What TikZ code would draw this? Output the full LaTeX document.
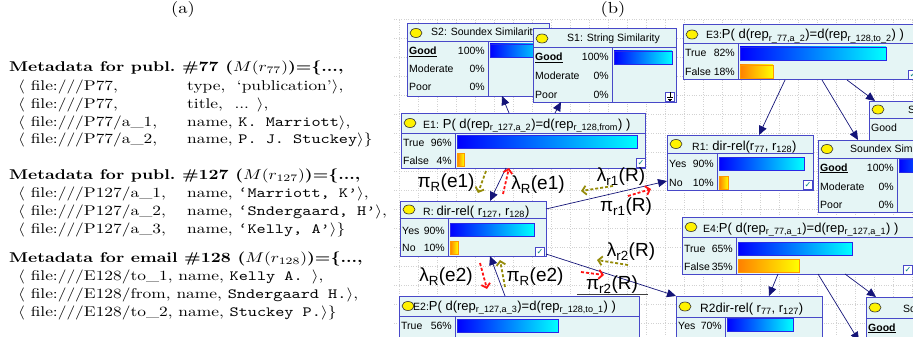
\documentclass[tikz,border=0pt]{standalone}
\usepackage{fontspec}
\usepackage{graphicx}
\usetikzlibrary{calc,arrows.meta,shapes.geometric}

\newfontfamily\netfont{Liberation Sans}
\newfontfamily\tickfont{DejaVu Sans}

\definecolor{netblue}{RGB}{72,72,200}
\definecolor{netfill}{RGB}{229,245,245}
\definecolor{barblue}{RGB}{40,40,230}
\definecolor{netorange}{RGB}{255,128,0}
\definecolor{navy}{RGB}{20,20,120}
\definecolor{msgolive}{RGB}{150,140,10}
\definecolor{msgred}{RGB}{255,20,20}
\definecolor{tickteal}{RGB}{0,128,128}

\newcommand{\widetext}[1]{\scalebox{1.74}[1.41]{#1}}
\newcommand{\bigtitle}[1]{{\fontsize{13}{15}\selectfont #1}}

% belief box: name, x, y, width, height, title bar, label column
\newcommand{\netbox}[7]{%
  \node[netframe, minimum width=#4pt, minimum height=#5pt] (#1) at (#2,#3) {};
  \coordinate (#1-col) at ($(#1.north west)+(#7,0)$);
  \draw[netline] ($(#1.north west)+(0,#6)$) -- ($(#1.north east)+(0,#6)$);
  \draw[netline] ($(#1-col)+(0,#6)$) -- (#1-col |- #1.south);
  \node[bulb] (#1-bulb) at ($(#1.north west)+(9,#6/2)$) {};
}
% state row: box, id, baseline, label, percent
\newcommand{\netrow}[5]{%
  \node[netlabel, anchor=base west] (#1-#2) at ($(#1.north west)+(2,#3)$) {#4};
  \node[netlabel, anchor=base east] (#1-#2p) at ($(#1-col)+(-3,#3)$) {#5};
}
% belief bar: box, style, top, length
\newcommand{\netbar}[4]{%
  \draw[#2] ($(#1-col)+(2,#3)$) rectangle ++(#4,13);
}
\newcommand{\nettick}[3]{%
  \node[tickbox] (#1-tick) at ($(#1.south east)+(#2,#3)$) {✓};
}

\begin{document}
\begin{tikzpicture}[x=1pt, y=-1pt,
  meta/.style={anchor=base west, inner sep=0pt},
  netframe/.style={draw=netblue, fill=netfill, line width=1pt, anchor=north west, inner sep=0pt, outer sep=0pt},
  netline/.style={draw=netblue, line width=1pt},
  bulb/.style={ellipse, draw=black!80, fill=yellow, line width=0.6pt, minimum width=12pt, minimum height=9pt, inner sep=0pt},
  netlabel/.style={font=\netfont\fontsize{10.5}{12}\selectfont, inner sep=0pt},
  nettitle/.style={netlabel, anchor=base west},
  truebar/.style={draw=barblue, line width=0.7pt, left color=blue, right color=cyan},
  falsebar/.style={draw=netorange!80!yellow, line width=0.7pt, left color=netorange, right color=yellow},
  tickbox/.style={draw=netblue, fill=white, line width=0.6pt, minimum size=9pt, inner sep=0pt, text=tickteal, font=\tickfont\fontsize{8}{8}\selectfont},
  gridline/.style={gray!35, dotted, xstep=19pt, ystep=19pt},
  link/.style={draw=navy, line width=0.7pt, -{Triangle[length=9pt,width=8pt]}},
  msg/.style={line width=1.8pt, dash pattern=on 3pt off 2pt, -{Straight Barb[length=4pt,width=9pt]}},
  olivemsg/.style={msg, draw=msgolive},
  redmsg/.style={msg, draw=msgred},
  msglabel/.style={font=\netfont\fontsize{19}{22}\selectfont, inner sep=0pt}]

\useasboundingbox (0,0) rectangle (913,337);
\clip (0,0) rectangle (913,337);

% (a) metadata
\node[inner sep=0pt] (capa) at (183,10) {\scalebox{1.85}[1.6]{(a)}};

\node[meta] (h77) at (9,71) {\widetext{\bfseries Metadata for publ.\ \#77 ($M(r_{77})$)=\{...,}};
\node[meta] (f77a) at (18,90) {\widetext{$\langle$ file:///P77,}};
\node[meta] (v77a) at (187,90) {\widetext{type,\ \ `publication'$\rangle$,}};
\node[meta] (f77b) at (18,108) {\widetext{$\langle$ file:///P77,}};
\node[meta] (v77b) at (187,108) {\widetext{title,\ \ ... $\rangle$,}};
\node[meta] (f77c) at (18,126) {\widetext{$\langle$ file:///P77/a\_1,}};
\node[meta] (v77c) at (187,126) {\widetext{name, \texttt{K. Marriott}$\rangle$,}};
\node[meta] (f77d) at (18,143) {\widetext{$\langle$ file:///P77/a\_2,}};
\node[meta] (v77d) at (187,143) {\widetext{name, \texttt{P. J. Stuckey}$\rangle$\}}};

\node[meta] (h127) at (9,179) {\widetext{\bfseries Metadata for publ.\ \#127 ($M(r_{127})$)=\{...,}};
\node[meta] (f127a) at (18,197) {\widetext{$\langle$ file:///P127/a\_1,}};
\node[meta] (v127a) at (187,197) {\widetext{name, \texttt{‘Marriott, K’}$\rangle$,}};
\node[meta] (f127b) at (18,215) {\widetext{$\langle$ file:///P127/a\_2,}};
\node[meta] (v127b) at (187,215) {\widetext{name, \texttt{‘Sndergaard, H’}$\rangle$,}};
\node[meta] (f127c) at (18,233) {\widetext{$\langle$ file:///P127/a\_3,}};
\node[meta] (v127c) at (187,233) {\widetext{name, \texttt{‘Kelly, A’}$\rangle$\}}};

\node[meta] (h128) at (9,262) {\widetext{\bfseries Metadata for email \#128 ($M(r_{128})$)=\{...,}};
\node[meta] (e128a) at (18,280) {\widetext{$\langle$ file:///E128/to\_1, name, \texttt{Kelly A. }$\rangle$,}};
\node[meta] (e128b) at (18,298) {\widetext{$\langle$ file:///E128/from, name, \texttt{Sndergaard H.}$\rangle$,}};
\node[meta] (e128c) at (18,316) {\widetext{$\langle$ file:///E128/to\_2, name, \texttt{Stuckey P.}$\rangle$\}}};

% (b) network
\node[inner sep=0pt] (capb) at (613,10) {\scalebox{1.85}[1.6]{(b)}};
\draw[gridline] (394,18) grid (913,337);

\netbox{s2}{407}{24}{142}{72}{18}{81}
\node[nettitle] (s2-title) at ($(s2.north west)+(24,12)$) {S2: Soundex Similarity};
\netrow{s2}{good}{31}{\underline{\textbf{Good}}}{100\%}
\netrow{s2}{mod}{49}{Moderate}{0\%}
\netrow{s2}{poor}{67}{Poor}{0\%}
\netbar{s2}{truebar}{20}{58}

\netbox{s1}{533}{29}{143}{73}{19}{79}
\node[nettitle] (s1-title) at ($(s1.north west)+(34,13)$) {S1: String Similarity};
\netrow{s1}{good}{32}{\underline{\textbf{Good}}}{100\%}
\netrow{s1}{mod}{51}{Moderate}{0\%}
\netrow{s1}{poor}{69}{Poor}{0\%}
\netbar{s1}{truebar}{22}{58}
\node[tickbox] (s1-icon) at ($(s1.south east)+(-6,-5)$) {};
\draw[line width=0.5pt] (s1-icon.north) -- (s1-icon.center);
\draw[line width=0.5pt] ($(s1-icon.center)+(-3,0)$) -- ++(6,0);
\draw[line width=0.5pt] ($(s1-icon.center)+(-2,2)$) -- ++(4,0);
\draw[line width=0.5pt] ($(s1-icon.center)+(-1,3.5)$) -- ++(2,0);

\netbox{e1}{401}{113}{244}{55}{20}{54}
\node[nettitle] (e1-title) at ($(e1.north west)+(22,15)$) {E1: \bigtitle{P( d(rep\textsubscript{r\_127,a\_2})=d(rep\textsubscript{r\_128,from}) )}};
\netrow{e1}{t}{33}{True}{96\%}
\netrow{e1}{f}{51}{False}{4\%}
\netbar{e1}{truebar}{22}{180}
\netbar{e1}{falsebar}{40}{7}
\nettick{e1}{-4}{-5}

\netbox{r}{400}{201}{146}{55}{17}{48}
\node[nettitle] (r-title) at ($(r.north west)+(23,14)$) {R: \bigtitle{dir-rel( r\textsubscript{127}, r\textsubscript{128})}};
\netrow{r}{y}{33}{Yes}{90\%}
\netrow{r}{n}{50}{No}{10\%}
\netbar{r}{truebar}{22}{84}
\netbar{r}{falsebar}{40}{8}
\nettick{r}{-6}{-4}

\netbox{e2}{399}{296}{240}{60}{20}{56}
\node[nettitle] (e2-title) at ($(e2.north west)+(14,14)$) {E2:\bigtitle{P( d(rep\textsubscript{r\_127,a\_3})=d(rep\textsubscript{r\_128,to\_1}) )}};
\netrow{e2}{t}{33}{True}{56\%}
\netbar{e2}{truebar}{23}{101}

\netbox{e3}{683}{25}{235}{55}{19}{55}
\node[nettitle] (e3-title) at ($(e3.north west)+(23,14)$) {E3:\bigtitle{P( d(rep\textsubscript{r\_77,a\_2})=d(rep\textsubscript{r\_128,to\_2}) )}};
\netrow{e3}{t}{32}{True}{82\%}
\netrow{e3}{f}{50}{False}{18\%}
\netbar{e3}{truebar}{22}{146}
\netbar{e3}{falsebar}{40}{33}
\nettick{e3}{-5}{-5}

\netbox{st}{869}{101}{150}{72}{17}{80}
\node[nettitle] (st-title) at ($(st.north west)+(39,12)$) {S};
\netrow{st}{good}{30}{Good}{}

\netbox{ss}{818}{140}{150}{72}{18}{79}
\node[nettitle] (ss-title) at ($(ss.north west)+(32,12)$) {Soundex Sim};
\netrow{ss}{good}{31}{\underline{\textbf{Good}}}{100\%}
\netrow{ss}{mod}{50}{Moderate}{0\%}
\netrow{ss}{poor}{68}{Poor}{0\%}
\netbar{ss}{truebar}{19}{58}

\netbox{r1}{667}{135}{146}{55}{18}{50}
\node[nettitle] (r1-title) at ($(r1.north west)+(25,15)$) {R1: \bigtitle{dir-rel(r\textsubscript{77}, r\textsubscript{128})}};
\netrow{r1}{y}{32}{Yes}{90\%}
\netrow{r1}{n}{51}{No}{10\%}
\netbar{r1}{truebar}{22}{85}
\netbar{r1}{falsebar}{41}{9}
\nettick{r1}{-5}{-5}

\netbox{e4}{682}{217}{233}{57}{20}{54}
\node[nettitle] (e4-title) at ($(e4.north west)+(21,15)$) {E4:\bigtitle{P( d(rep\textsubscript{r\_77,a\_1})=d(rep\textsubscript{r\_127,a\_1}) )}};
\netrow{e4}{t}{35}{True}{65\%}
\netrow{e4}{f}{53}{False}{35\%}
\netbar{e4}{truebar}{25}{114}
\netbar{e4}{falsebar}{42}{61}
\nettick{e4}{-7}{-4}

\netbox{r2}{676}{296}{146}{60}{21}{49}
\node[nettitle] (r2-title) at ($(r2.north west)+(24,16)$) {{\fontsize{12}{14}\selectfont R2}\bigtitle{dir-rel( r\textsubscript{77}, r\textsubscript{127})}};
\netrow{r2}{y}{33}{Yes}{70\%}
\netbar{r2}{truebar}{22}{66}

\netbox{sb}{866}{297}{150}{60}{21}{80}
\node[nettitle] (sb-title) at ($(sb.north west)+(37,15)$) {So};
\netrow{sb}{good}{34}{\underline{\textbf{Good}}}{}

% links
\coordinate (below) at (859,341);
\draw[link] ($(e1.north west)+(108,0)$) -- ($(s2.south west)+(95,0)$);
\draw[link] ($(e1.north west)+(154,0)$) -- ($(s1.south west)+(28,0)$);
\draw[link] ($(e1.south west)+(105,0)$) -- ($(r.north west)+(90,0)$);
\draw[link] ($(r.north east)+(0,8)$) -- ($(r1.north west)+(0,46)$);
\draw[link] ($(r.north east)+(0,53)$) -- (r2.north west);
\draw[link] ($(e2.north west)+(106,0)$) -- ($(r.south west)+(90,0)$);
\draw[link] ($(e3.south west)+(102,0)$) -- ($(r1.north west)+(92,0)$);
\draw[link] ($(e3.south west)+(139,0)$) -- ($(ss.north west)+(40,0)$);
\draw[link] ($(e3.south west)+(164,0)$) -- ($(st.north west)+(6,0)$);
\draw[link] ($(e4.south west)+(96,0)$) -- ($(r2.north west)+(93,0)$);
\draw[link] ($(e4.south west)+(163,0)$) -- ($(sb.north west)+(10,0)$);
\draw[link] ($(e4.south west)+(136,0)$) -- (below);

% messages
\node[msglabel] (pie1) at (446,183) {π\textsubscript{R}(e1)};
\node[msglabel] (lame1) at (538,185) {λ\textsubscript{R}(e1)};
\node[msglabel] (lamr1) at (621,177) {λ\textsubscript{r1}(R)};
\node[msglabel] (pir1) at (626,207) {π\textsubscript{r1}(R)};
\node[msglabel] (lame2) at (446,277) {λ\textsubscript{R}(e2)};
\node[msglabel] (pie2) at (535,277) {π\textsubscript{R}(e2)};
\node[msglabel] (lamr2) at (631,252) {λ\textsubscript{r2}(R)};
\node[msglabel] (pir2) at (612,285) {π\textsubscript{r2}(R)};
\draw[black!75, line width=0.7pt] ($(pir2.south west)+(-9,0)$) -- ($(pir2.south east)+(10,0)$);

\coordinate (pie1a) at (486,171); \coordinate (pie1b) at (478,193);
\coordinate (lame1a) at (503,194); \coordinate (lame1b) at (509,168);
\coordinate (lamr1a) at (613,186); \coordinate (lamr1b) at (581,191);
\coordinate (pir1a) at (628,196); \coordinate (pir1b) at (651,189);
\coordinate (lame2a) at (480,263); \coordinate (lame2b) at (487,289);
\coordinate (pie2a) at (505,287); \coordinate (pie2b) at (500,260);
\coordinate (lamr2a) at (628,265); \coordinate (lamr2b) at (597,260);
\coordinate (pir2a) at (581,272); \coordinate (pir2b) at (604,275);
\draw[olivemsg] (pie1a) -- (pie1b);
\draw[redmsg] (lame1a) -- (lame1b);
\draw[olivemsg] (lamr1a) -- (lamr1b);
\draw[redmsg] (pir1a) -- (pir1b);
\draw[redmsg] (lame2a) -- (lame2b);
\draw[olivemsg] (pie2a) -- (pie2b);
\draw[olivemsg] (lamr2a) -- (lamr2b);
\draw[redmsg] (pir2a) -- (pir2b);
\end{tikzpicture}
\end{document}
